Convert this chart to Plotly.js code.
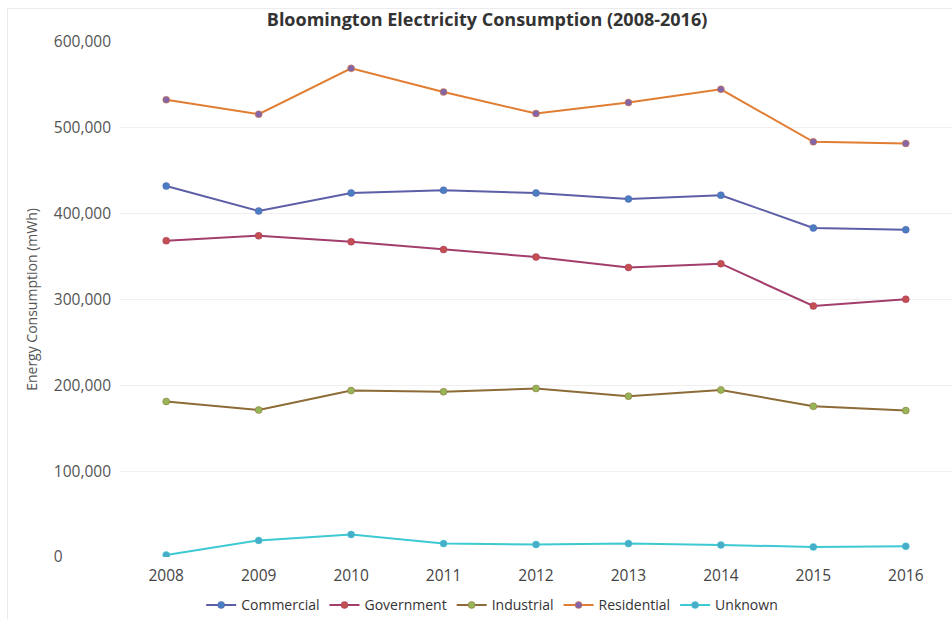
<!DOCTYPE html>
<html>
<head>
<meta charset="utf-8">
<script src="https://cdn.plot.ly/plotly-3.0.1.min.js"></script>
<style>
html,body{margin:0;padding:0;background:#fff;}
#frame{position:absolute;left:7px;top:8px;width:960px;height:620px;border:1px solid #ebebeb;}
#chart{position:absolute;left:0;top:0;width:952px;height:619px;}
</style>
</head>
<body>
<div id="frame"></div>
<div id="chart"></div>
<script>
const years = ['2008','2009','2010','2011','2012','2013','2014','2015','2016'];
const commercial  = [432200, 403100, 424100, 427300, 424100, 417100, 421500, 383300, 381300];
const government  = [368500, 374300, 367300, 358200, 349500, 337300, 341700, 292400, 300300];
const industrial  = [181200, 171300, 193900, 192600, 196300, 187300, 194600, 175600, 170600];
const residential = [532800, 515900, 569300, 541800, 516700, 529500, 544900, 483700, 481800];
const unknown     = [2300, 19300, 26300, 15600, 14600, 15600, 14000, 11700, 12500];

const seriesNames = ['Commercial','Government','Industrial','Residential','Unknown'];
const seriesData = [commercial, government, industrial, residential, unknown];
const lineColors = ['#5c5fa7', '#a23d6c', '#8c6b36', '#e17d32', '#3dc9d2'];
const markerColors = ['#4a7ec2', '#c34f50', '#96b556', '#8465a6', '#48adc8'];

const yTickVals = [0, 100000, 200000, 300000, 400000, 500000, 600000];
const yTickText = ['0\u2007\u2007\u2007\u2007\u2007\u2008', '100,000', '200,000', '300,000', '400,000', '500,000', '600,000'];

const traces = seriesNames.map((name, i) => ({
  type: 'scatter',
  mode: 'lines+markers',
  name: name,
  x: years,
  y: seriesData[i],
  line: {color: lineColors[i], width: 2},
  marker: {color: markerColors[i], size: 7, line: {color: lineColors[i], width: 0.5}}
}));

const layout = {
  width: 952, height: 619,
  paper_bgcolor: 'rgba(0,0,0,0)',
  plot_bgcolor: 'rgba(0,0,0,0)',
  margin: {l: 120, r: 0, t: 42, b: 62, pad: 0},
  title: {
    text: '<b>Bloomington Electricity Consumption (2008-2016)</b>',
    font: {family: 'Open Sans', size: 18, color: '#333'},
    x: 0.5116, xref: 'container', xanchor: 'center',
    y: 0.968, yref: 'container', yanchor: 'middle'
  },
  xaxis: {
    type: 'category',
    range: [-0.5, 8.5],
    showgrid: false, zeroline: false, showline: false,
    ticks: '',
    tickfont: {family: 'Open Sans', size: 15.5, color: '#444'},
    ticklabelstandoff: 7
  },
  yaxis: {
    range: [0, 600000],
    tickvals: yTickVals,
    ticktext: yTickText,
    showgrid: true, gridcolor: '#f0f0f0', gridwidth: 1,
    zeroline: false, showline: false, ticks: '',
    tickfont: {family: 'Open Sans', size: 15.5, color: '#555'},
    ticklabelstandoff: 8,
    title: {text: 'Energy Consumption (mWh)', font: {family: 'Open Sans', size: 14, color: '#555'}, standoff: 12}
  },
  legend: {
    orientation: 'h',
    x: 0.517, xanchor: 'center', xref: 'container',
    y: 0.022, yanchor: 'middle', yref: 'container',
    font: {family: 'Open Sans', size: 14, color: '#333'},
    itemwidth: 30,
    tracegroupgap: 0
  },
  showlegend: true
};

Plotly.newPlot('chart', traces, layout, {displayModeBar: false, staticPlot: true});
</script>
</body>
</html>
